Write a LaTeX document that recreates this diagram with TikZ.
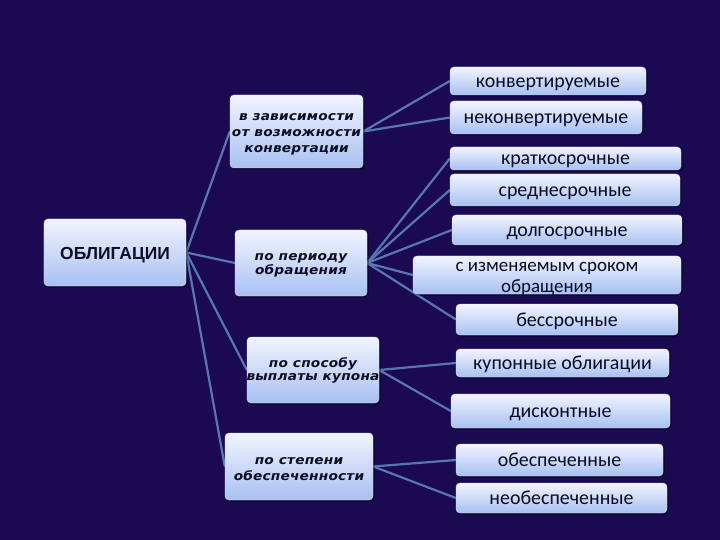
\documentclass[tikz,border=0pt]{standalone}
\usepackage{fontspec}
\setmainfont{Carlito}
\newfontfamily\leaffont{Carlito}
\newfontfamily\midfont[FakeStretch=1.1,LetterSpace=1.5]{DejaVu Sans}
\newfontfamily\topfont{Liberation Sans}
\usetikzlibrary{shadows}
\definecolor{bgnavy}{RGB}{27,10,82}
\definecolor{boxtop}{RGB}{242,244,255}
\definecolor{boxbot}{RGB}{168,192,242}
\definecolor{linecol}{RGB}{88,118,178}
\definecolor{txtcol}{RGB}{12,12,34}
\pgfdeclarelayer{bg}
\pgfdeclarelayer{lines}
\pgfsetlayers{bg,lines,main}
% stacked lines: #1 claimed height, #2 claimed depth (bottom baseline), #3 rows
\newcommand{\stackrows}[3]{\makebox[0pt][c]{\raisebox{0pt}[#1][#2]{\begin{tabular}[b]{@{}c@{}}#3\end{tabular}}}}
\tikzset{
  box/.style={rounded corners=4bp, top color=boxtop, bottom color=boxbot,
    draw=boxtop!70!boxbot, line width=0.4bp, inner sep=0pt, text=txtcol,
    drop shadow={shadow xshift=1.5bp, shadow yshift=-1.5bp, fill=black, opacity=0.45}},
  leaf/.style={box, font=\leaffont\fontsize{20}{21}\selectfont, text height=15bp, text depth=2bp},
  mid/.style={box, font=\midfont\bfseries\itshape\fontsize{12.5}{#1}\selectfont},
  topbox/.style={box, font=\topfont\bfseries\fontsize{17.5}{20}\selectfont, text height=15bp, text depth=0bp},
  conn/.style={draw=linecol, line width=2.2bp}
}
\begin{document}
\begin{tikzpicture}[x=1bp,y=-1bp]
\begin{pgfonlayer}{bg}
\fill[bgnavy] (0,0) rectangle (720,540);
\end{pgfonlayer}
\useasboundingbox (0,0) rectangle (720,540);

\node[topbox, minimum width=142bp, minimum height=67bp] (oblig) at (115,252.5) {ОБЛИГАЦИИ};

\node[mid=16bp, minimum width=133bp, minimum height=73bp] (m1) at (296.5,131.5) {\stackrows{45bp}{2bp}{в зависимости\\от возможности\\конвертации}};
\node[mid=14bp, minimum width=132bp, minimum height=66bp] (m2) at (301,263) {\stackrows{26bp}{2bp}{по периоду\\обращения}};
\node[mid=13bp, minimum width=132bp, minimum height=66bp] (m3) at (313,370) {\stackrows{22bp}{2bp}{по способу\\выплаты купона}};
\node[mid=16bp, minimum width=148bp, minimum height=67bp] (m4) at (299,466.5) {\stackrows{29bp}{2bp}{по степени\\обеспеченности}};

\node[leaf, minimum width=196bp, minimum height=28bp] (l1) at (548,81) {конвертируемые};
\node[leaf, minimum width=192bp, minimum height=33bp] (l2) at (546,117.5) {неконвертируемые};
\node[leaf, minimum width=231bp, minimum height=23bp] (l3) at (565.5,158.5) {краткосрочные};
\node[leaf, minimum width=230bp, minimum height=32bp] (l4) at (565,190) {среднесрочные};
\node[leaf, minimum width=230bp, minimum height=30bp] (l5) at (567,230) {долгосрочные};
\node[box, font=\leaffont\fontsize{19}{21}\selectfont, minimum width=268bp, minimum height=36bp] (l6) at (547,275) {\stackrows{36bp}{2bp}{с изменяемым сроком\\обращения}};
\node[leaf, minimum width=222bp, minimum height=31bp] (l7) at (567,319.5) {бессрочные};
\node[leaf, minimum width=213bp, minimum height=28bp] (l8) at (562.5,363) {купонные облигации};
\node[leaf, minimum width=219bp, minimum height=34bp] (l9) at (560.5,411) {дисконтные};
\node[leaf, minimum width=207bp, minimum height=32bp] (l10) at (559.5,460) {обеспеченные};
\node[leaf, minimum width=211bp, minimum height=30bp] (l11) at (561.5,498) {необеспеченные};

\begin{pgfonlayer}{lines}
\foreach \m in {m1,m2,m3,m4} \draw[conn] (oblig.east) -- (\m.west);
\foreach \l in {l1,l2} \draw[conn] (m1.east) -- (\l.west);
\foreach \l in {l3,l4,l5,l6,l7} \draw[conn] (m2.east) -- (\l.west);
\foreach \l in {l8,l9} \draw[conn] (m3.east) -- (\l.west);
\foreach \l in {l10,l11} \draw[conn] (m4.east) -- (\l.west);
\end{pgfonlayer}
\end{tikzpicture}
\end{document}
